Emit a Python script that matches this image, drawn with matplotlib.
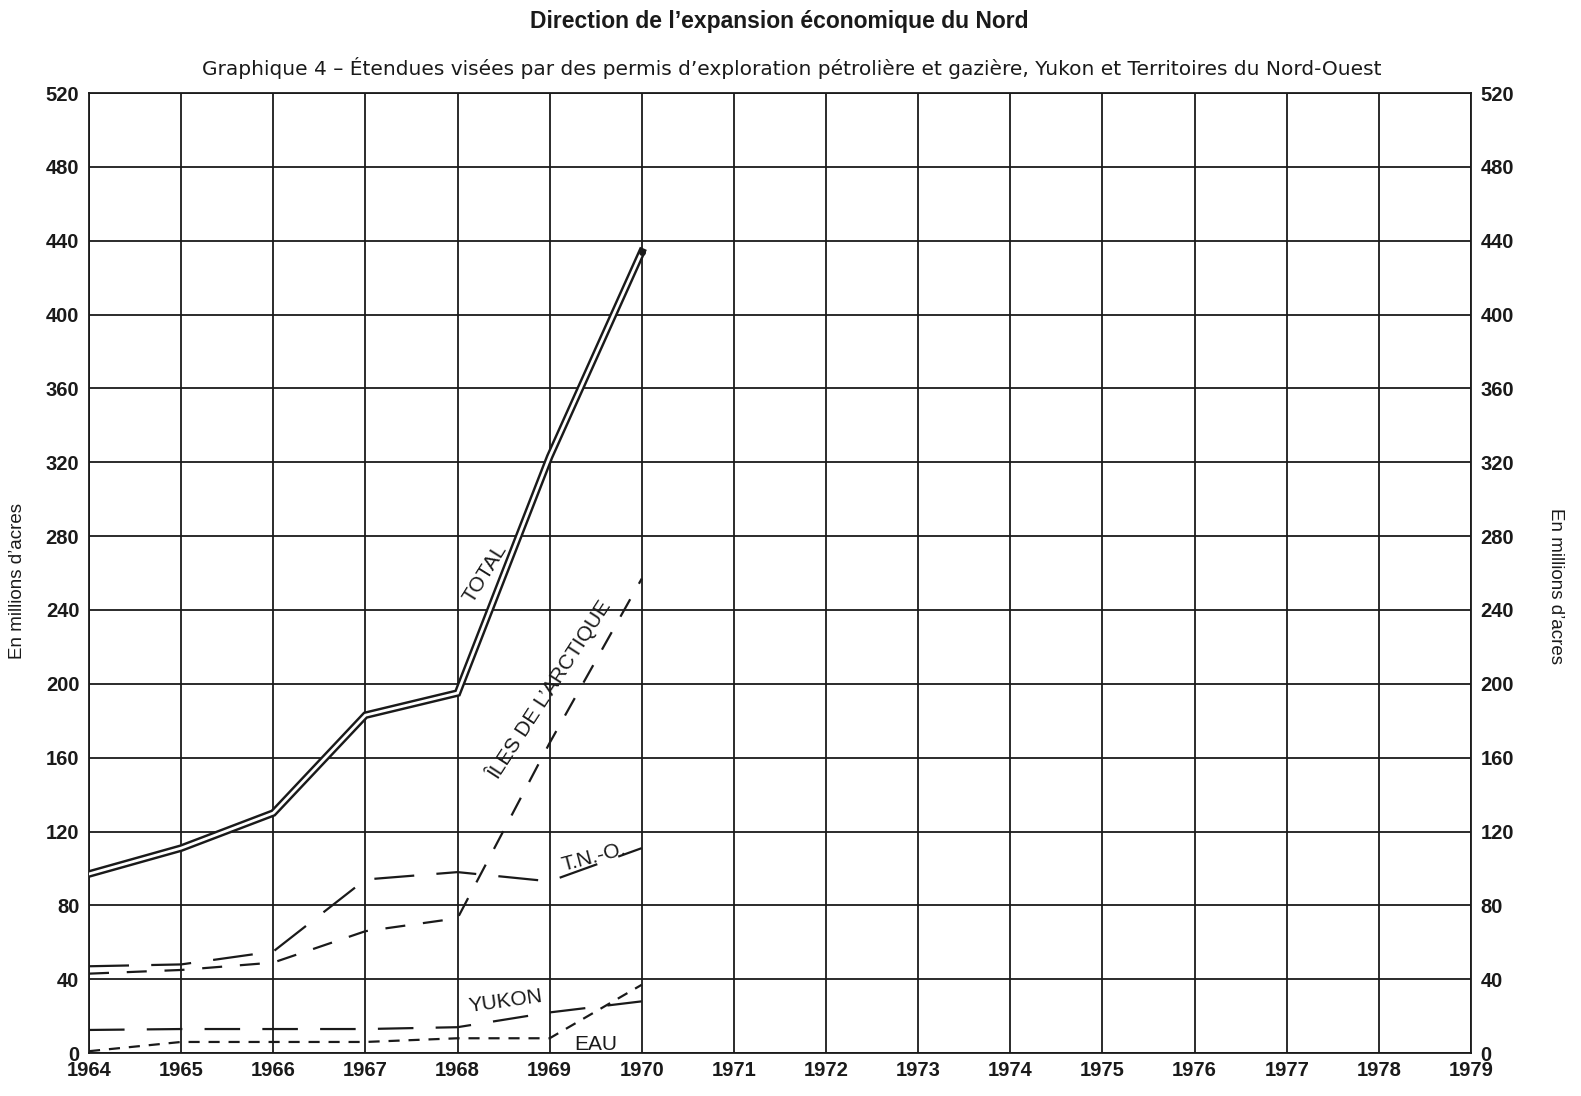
import matplotlib

matplotlib.use("Agg")
import matplotlib.pyplot as plt
import numpy as np

# values (millions of acres)
years = [1964, 1965, 1966, 1967, 1968, 1969, 1970]
total = [97, 111, 130, 183, 195, 323, 434]
iles_arctique = [43, 45, 49, 66, 73, 168, 257]
tno = [47, 48, 55, 94, 98, 93, 111]
yukon = [12.5, 13, 13, 13, 14, 22, 28]
eau = [1, 6, 6, 6, 8, 8, 37]

year_ticks = list(range(1964, 1980))
y_ticks = list(range(0, 521, 40))

title = "Direction de l\u2019expansion économique du Nord"
subtitle = ("Graphique 4 \u2013 Étendues visées par des permis d\u2019exploration "
            "pétrolière et gazière, Yukon et Territoires du Nord-Ouest")
ylabel = "En millions d\u2019acres"

plt.rcParams["font.family"] = ["Liberation Sans", "DejaVu Sans"]

fig = plt.figure(figsize=(15.81, 10.96), dpi=100)
ax = fig.add_axes([0.0563, 0.0392, 0.8741, 0.8759])

ink = "#1a1a1a"

ax.set_xlim(1964, 1979)
ax.set_ylim(0, 520)
ax.set_xticks(year_ticks)
ax.set_yticks(y_ticks)
ax.grid(True, color=ink, linewidth=1.3)
ax.set_axisbelow(True)
for s in ax.spines.values():
    s.set_color(ink)
    s.set_linewidth(1.3)

ax.tick_params(axis="both", length=0, labelsize=14.5, colors=ink)
ax.tick_params(axis="x", pad=6)
ax.tick_params(axis="y", pad=7, labelright=True, right=True)
for lab in ax.get_xticklabels() + ax.get_yticklabels():
    lab.set_fontweight("bold")

# TOTAL: double line
ax.plot(years, total, color=ink, linewidth=5.5, solid_joinstyle="miter", zorder=4)
ax.plot(years, total, color="white", linewidth=2.0, solid_joinstyle="miter", zorder=5)
ax.plot(years[-1], total[-1], "o", color=ink, markersize=4, zorder=6)

ax.plot(years, iles_arctique, color=ink, linewidth=1.6, dashes=(9, 8), zorder=3)
ax.plot(years, tno, color=ink, linewidth=1.6, dashes=(18, 10), zorder=3)
ax.plot(years, yukon, color=ink, linewidth=1.6, dashes=(16, 10), zorder=3)
ax.plot(years, eau, color=ink, linewidth=1.6, dashes=(5, 4), zorder=3)

lbl = dict(color=ink, fontsize=15, ha="center", va="center", zorder=7)
ax.text(1968.30, 260, "TOTAL", rotation=58, **lbl)
ax.text(1969.00, 197, "ÎLES DE L\u2019ARCTIQUE", rotation=57, **lbl)
ax.text(1969.48, 106, "T.N.-O.", rotation=15, **lbl)
ax.text(1968.52, 28, "YUKON", rotation=8, **lbl)
ax.text(1969.50, 4.5, "EAU", rotation=0, **lbl)

fig.text(0.4927, 0.980, title, ha="center", va="center",
         fontsize=16.5, fontweight="bold", color=ink)
fig.text(0.5005, 0.938, subtitle, ha="center", va="center",
         fontsize=14.5, color=ink, family="DejaVu Sans")
fig.text(0.0112, 0.470, ylabel, rotation=90, ha="center", va="center",
         fontsize=13.5, color=ink)
fig.text(0.984, 0.465, ylabel, rotation=-90, ha="center", va="center",
         fontsize=13.5, color=ink)

fig.savefig("out.png", dpi=100)
plt.close(fig)
